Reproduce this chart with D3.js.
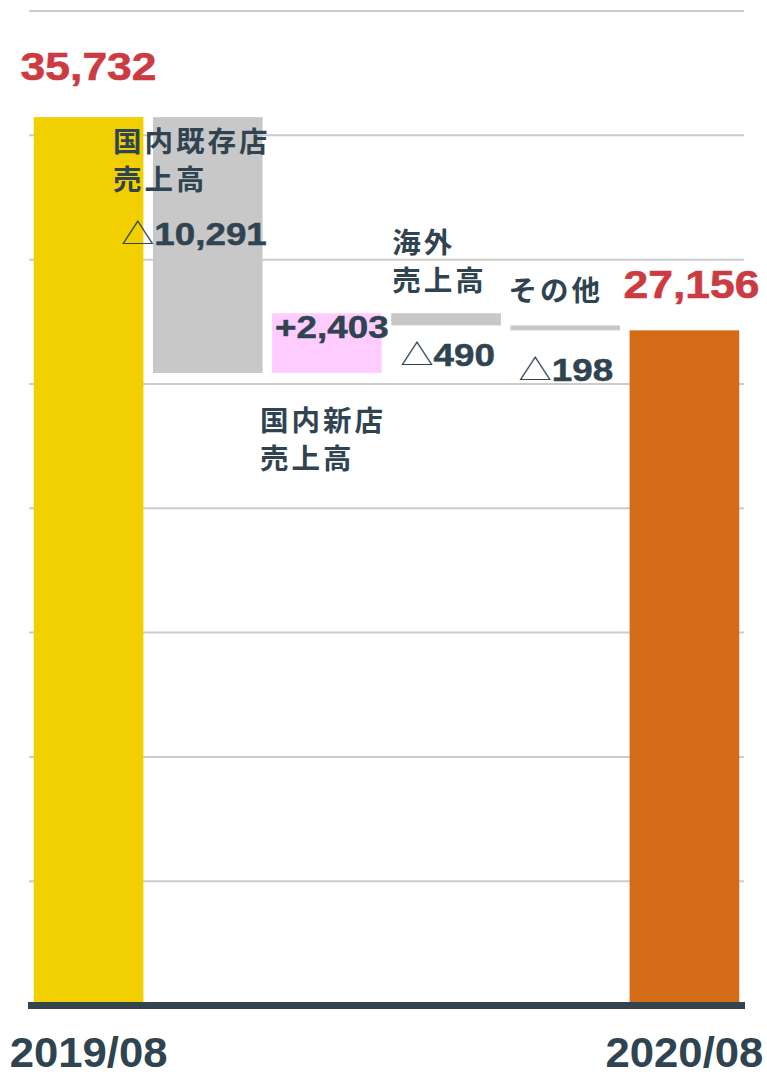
<!DOCTYPE html>
<html>
<head>
<meta charset="utf-8">
<script src="https://cdn.jsdelivr.net/npm/d3@7"></script>
<style>
  html, body { margin: 0; padding: 0; background: #fff; }
  svg { display: block; }
</style>
</head>
<body>
<div id="chart"></div>
<script>
// Waterfall data
const categories = ['2019/08', '国内既存店売上高', '国内新店売上高', '海外売上高', 'その他', '2020/08'];
const values = [35732, -10291, 2403, -490, -198, 27156];
const isTotal = [true, false, false, false, false, true];
const nameLines = [[], ['国内既存店', '売上高'], ['国内新店', '売上高'], ['海外', '売上高'], ['その他'], []];
const gridTicks = [5000, 10000, 15000, 20000, 25000, 30000, 35000, 40000];
const axisLabels = ['2019/08', '2020/08'];

const W = 767, H = 1078;
const colors = ['#f2cf00', '#c8c8c8', '#ffccff', '#c8c8c8', '#c8c8c8', '#d46c17'];
const dark = '#2f4450';
const red = '#cc3a42';
const numFont = '"Liberation Sans", Arial, "Noto Sans CJK JP", sans-serif';
const cjkFont = '"Noto Sans CJK JP", "Liberation Sans", sans-serif';

// label offsets (name: anchored to band start; value: per bar edge)
const nameLayout = [null,
    { dx: -40, ref: 'top', dy: 35 },
    { dx: -12, ref: 'bottom', dy: 58 },
    { dx: 1, ref: 'top', dy: -60 },
    { dx: -2, ref: 'top', dy: -24 }, null];
const valueLayout = [
    { dx: 0, ref: 'top', dy: -37 },
    { dx: -32, ref: 'top', dy: 128 },
    { dx: 3, ref: 'top', dy: 25 },
    { dx: 9, ref: 'bottom', dy: 41 },
    { dx: 8, ref: 'bottom', dy: 51 },
    { dx: 7, ref: 'top', dy: -32 }];

// running totals
let running = 0;
const bars = categories.map((c, i) => {
    let start, end;
    if (isTotal[i]) { start = 0; end = values[i]; running = values[i]; }
    else { start = running; end = running + values[i]; running = end; }
    return { cat: c, v: values[i], lo: Math.min(start, end), hi: Math.max(start, end), i };
});

const svg = d3.select('#chart').append('svg')
    .attr('width', W).attr('height', H);

const x = d3.scaleBand()
    .domain(categories)
    .range([29, 744])
    .paddingInner(0.08)
    .paddingOuter(0.04);

const y = d3.scaleLinear()
    .domain([0, 40000])
    .range([1005.5, 11]);

// grid lines
svg.append('g')
    .selectAll('line')
    .data(gridTicks)
    .enter()
    .append('line')
    .attr('x1', 29)
    .attr('x2', 744)
    .attr('y1', d => y(d))
    .attr('y2', d => y(d))
    .attr('stroke', '#cccccc')
    .attr('stroke-width', 2);

// bars
svg.append('g')
    .selectAll('rect')
    .data(bars)
    .enter()
    .append('rect')
    .attr('x', d => x(d.cat))
    .attr('width', x.bandwidth())
    .attr('y', d => y(d.hi))
    .attr('height', d => y(d.lo) - y(d.hi))
    .attr('fill', (d, i) => colors[i]);

// baseline
svg.append('line')
    .attr('x1', 28)
    .attr('x2', 745)
    .attr('y1', y(0))
    .attr('y2', y(0))
    .attr('stroke', '#33444e')
    .attr('stroke-width', 7);

// x axis (only the totals are labelled)
const xAxis = svg.append('g')
    .attr('transform', `translate(0,${y(0)})`)
    .call(d3.axisBottom(x)
        .tickValues(axisLabels)
        .tickSize(0)
        .tickPadding(32));
xAxis.select('.domain').remove();
xAxis.selectAll('text')
    .attr('dy', '0.71em')
    .attr('transform', 'scale(1.04,1)')
    .style('font-family', numFont)
    .style('font-weight', 'bold')
    .style('font-size', '42px')
    .style('fill', dark);

// category name labels
bars.forEach((d, i) => {
    const lay = nameLayout[i];
    if (!lay) return;
    const refY = lay.ref === 'top' ? y(d.hi) : y(d.lo);
    const t = svg.append('text')
        .attr('x', x(d.cat) + lay.dx)
        .attr('y', refY + lay.dy)
        .style('font-family', cjkFont)
        .style('font-weight', 'bold')
        .style('font-size', '28.5px')
        .style('letter-spacing', '3px')
        .style('fill', dark);
    nameLines[i].forEach((line, k) => {
        t.append('tspan')
            .attr('x', x(d.cat) + lay.dx)
            .attr('dy', k === 0 ? 0 : 38)
            .text(line);
    });
});

// value labels
const fmt = d3.format(',');
bars.forEach((d, i) => {
    const lay = valueLayout[i];
    const refY = lay.ref === 'top' ? y(d.hi) : y(d.lo);
    if (isTotal[i]) {
        svg.append('text')
            .attr('transform', `translate(${x(d.cat) + x.bandwidth() / 2 + lay.dx},${refY + lay.dy}) scale(1.14,1)`)
            .attr('text-anchor', 'middle')
            .style('font-family', numFont)
            .style('font-weight', 'bold')
            .style('font-size', '39px')
            .style('stroke', red)
            .style('stroke-width', 0.6)
            .style('fill', red)
            .text(fmt(d.v));
        return;
    }
    const t = svg.append('text')
        .attr('transform', `translate(${x(d.cat) + lay.dx},${refY + lay.dy}) scale(1.15,1)`)
        .style('font-family', numFont)
        .style('font-weight', 'bold')
        .style('font-size', '32px')
        .style('fill', dark);
    if (d.v < 0) {
        t.append('tspan')
            .style('font-family', cjkFont)
            .style('font-weight', 'normal')
            .style('font-size', '29px')
            .text('△');
        t.append('tspan')
            .style('stroke', dark)
            .style('stroke-width', 0.5)
            .text(fmt(-d.v));
    } else {
        t.append('tspan')
            .style('stroke', dark)
            .style('stroke-width', 0.5)
            .text('+' + fmt(d.v));
    }
});
</script>
</body>
</html>
